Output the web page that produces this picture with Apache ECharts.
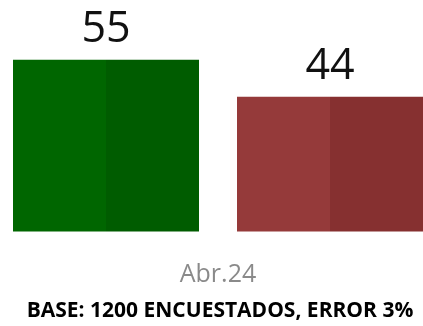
<!DOCTYPE html>
<html>
<head>
<meta charset="utf-8">
<script src="https://cdn.jsdelivr.net/npm/echarts@6/dist/echarts.min.js"></script>
<style>
  html, body { margin: 0; padding: 0; background: #fff; }
  #chart { width: 423px; height: 326px; }
</style>
</head>
<body>
<div id="chart"></div>
<script>
// Survey result for one wave: two answers side by side
const categories = ['Abr.24'];
const seriesNames = ['Sí', 'No'];
const valuesYes = [55];
const valuesNo = [44];
const footnote = 'BASE: 1200 ENCUESTADOS, ERROR 3%';

// Two-tone fill: lighter left half, darker right half
function splitFill(light, dark) {
  return new echarts.graphic.LinearGradient(0, 0, 1, 0, [
    { offset: 0, color: light },
    { offset: 0.5, color: light },
    { offset: 0.5, color: dark },
    { offset: 1, color: dark }
  ]);
}

const labelStyle = {
  show: true,
  position: 'top',
  distance: 9,
  color: '#111',
  fontSize: 43,
  fontFamily: 'Open Sans',
  fontWeight: 'normal'
};

const chart = echarts.init(document.getElementById('chart'), null, { renderer: 'canvas' });
chart.setOption({
  animation: false,
  backgroundColor: '#ffffff',
  grid: { left: 13, width: 419, top: 43, bottom: 94.5, containLabel: false },
  xAxis: {
    type: 'category',
    data: categories,
    axisLine: { show: false },
    axisTick: { show: false },
    axisLabel: {
      margin: 31,
      color: '#8a8a8a',
      fontSize: 25,
      fontFamily: 'Open Sans'
    }
  },
  yAxis: {
    type: 'value',
    min: 4,
    max: 60,
    show: false,
    splitLine: { show: false }
  },
  series: [
    {
      name: seriesNames[0],
      type: 'bar',
      data: valuesYes,
      barWidth: 190,
      barGap: '20%',
      itemStyle: { color: splitFill('#006600', '#005c00') },
      label: labelStyle
    },
    {
      name: seriesNames[1],
      type: 'bar',
      data: valuesNo,
      barWidth: 190,
      itemStyle: { color: splitFill('#953a3a', '#863030') },
      label: labelStyle
    }
  ],
  graphic: [{
    type: 'text',
    x: 220,
    y: 301,
    style: {
      text: footnote,
      fill: '#000',
      align: 'center',
      font: 'bold 21px "Open Sans"'
    }
  }]
});
</script>
</body>
</html>
